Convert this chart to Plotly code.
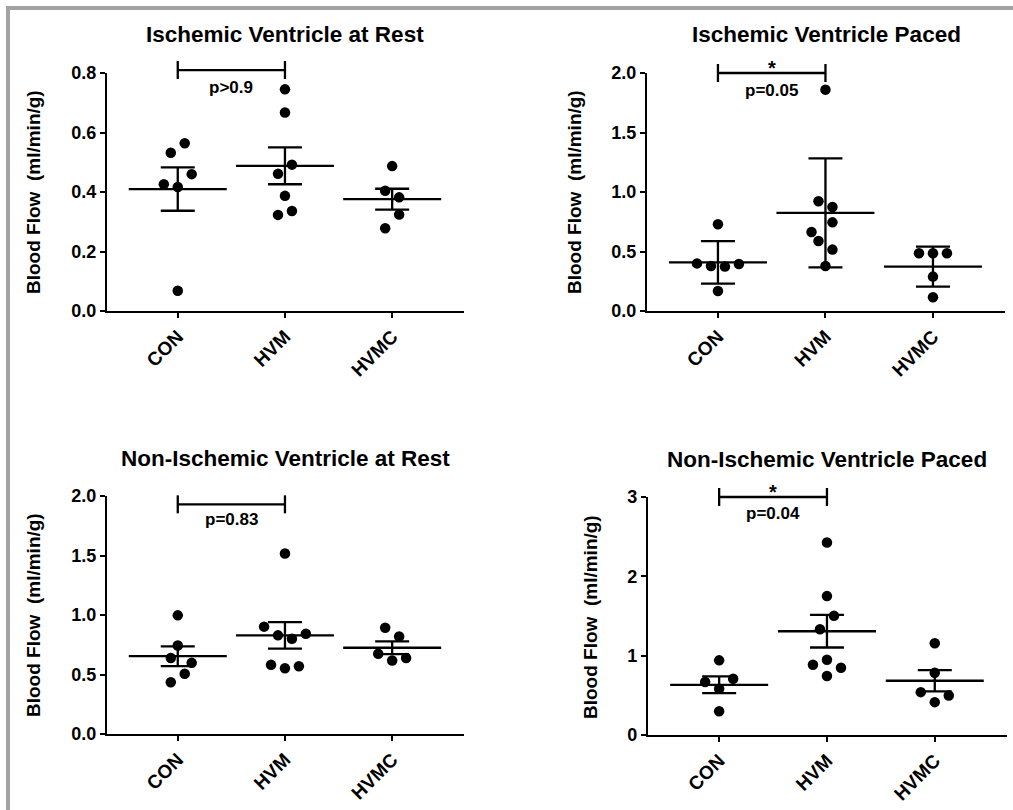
import plotly.graph_objects as go

# ---------------- data ----------------
categories = ["CON", "HVM", "HVMC"]

titles = ["Ischemic Ventricle at Rest", "Ischemic Ventricle Paced",
          "Non-Ischemic Ventricle at Rest", "Non-Ischemic Ventricle Paced"]

# panel 1: Ischemic Ventricle at Rest
p1_con = [0.532, 0.564, 0.460, 0.426, 0.417, 0.068]
p1_hvm = [0.745, 0.667, 0.492, 0.461, 0.387, 0.336, 0.323]
p1_hvmc = [0.487, 0.404, 0.382, 0.324, 0.278]
p1_mean = [0.410, 0.488, 0.376]
p1_err = [0.073, 0.062, 0.035]

# panel 2: Ischemic Ventricle Paced
p2_con = [0.729, 0.400, 0.378, 0.373, 0.395, 0.168]
p2_hvm = [1.860, 0.922, 0.874, 0.745, 0.664, 0.588, 0.516, 0.378]
p2_hvmc = [0.485, 0.485, 0.485, 0.289, 0.115]
p2_mean = [0.409, 0.824, 0.373]
p2_err = [0.179, 0.458, 0.168]

# panel 3: Non-Ischemic Ventricle at Rest
p3_con = [0.997, 0.744, 0.638, 0.598, 0.506, 0.435]
p3_hvm = [1.517, 0.902, 0.829, 0.800, 0.843, 0.581, 0.553, 0.570]
p3_hvmc = [0.893, 0.820, 0.674, 0.618, 0.638]
p3_mean = [0.654, 0.829, 0.725]
p3_err = [0.083, 0.111, 0.054]

# panel 4: Non-Ischemic Ventricle Paced
p4_con = [0.941, 0.709, 0.667, 0.582, 0.300]
p4_hvm = [2.426, 1.751, 1.502, 1.333, 0.949, 0.886, 0.848, 0.743]
p4_hvmc = [1.156, 0.785, 0.540, 0.498, 0.414]
p4_mean = [0.633, 1.308, 0.684]
p4_err = [0.105, 0.205, 0.135]

p_texts = ["p>0.9", "p=0.05", "p=0.83", "p=0.04"]
stars = ["", "*", "", "*"]

y_max = [0.8, 2.0, 2.0, 3.0]
y_dtick = [0.2, 0.5, 0.5, 1]
y_fmt = [".1f", ".1f", ".1f", "d"]

# beeswarm horizontal spread (in marker half-steps) for each point
p1_off = [[-1, 1, 2, -2, 0, 0], [0, 0, 1, -1, 0, 1, -1], [0, -1, 1, 1, -1]]
p2_off = [[0, -3, -1, 1, 3, 0], [0, -1, 1, 1, -2, -1, 1, 0], [-2, 0, 2, 0, 0]]
p3_off = [[0, 0, -1, 2, 1, -1], [0, -3, -1, 1, 3, -2, 0, 2], [-1, 1, -2, 0, 2]]
p4_off = [[0, 2, -2, 0, 0], [0, 0, 1, -1, 0, -2, 2, 0], [0, 0, -2, 2, 0]]

panels = [
    dict(groups=[p1_con, p1_hvm, p1_hvmc], off=p1_off, mean=p1_mean, err=p1_err),
    dict(groups=[p2_con, p2_hvm, p2_hvmc], off=p2_off, mean=p2_mean, err=p2_err),
    dict(groups=[p3_con, p3_hvm, p3_hvmc], off=p3_off, mean=p3_mean, err=p3_err),
    dict(groups=[p4_con, p4_hvm, p4_hvmc], off=p4_off, mean=p4_mean, err=p4_err),
]

# ---------------- layout / style ----------------
W, H = 1013, 810
FONT = "Liberation Sans, Arial, Helvetica, sans-serif"
# plot-area rectangles in pixels: (left, right, top, bottom)
rects = [(107, 464, 73, 311), (647, 1005, 73, 311),
         (107, 464, 496, 734), (648, 1007, 497, 735)]
title_pos = [(285, 35), (826, 35), (285, 458), (827, 459)]
ytitle_pos = [(33, 192), (574, 192), (33, 615), (590, 617)]
bracket_frac = [1.0125, 1.0, 0.965, 1.0]
ptext_shift = [-8, -8, -6, -7]      # top of p-value text below the bracket (px)
star_shift = [0, -6, 0, -6]        # bottom of star text relative to the bracket (px)
x_range = [-0.66, 2.67]
step = 0.065      # horizontal spread step in category units
LW = 2.3

fig = go.Figure()
shapes = []
annotations = []

for i, pan in enumerate(panels):
    n = "" if i == 0 else str(i + 1)
    xref, yref = "x" + n, "y" + n
    # points
    xs, ys = [], []
    for ci, (vals, offs) in enumerate(zip(pan["groups"], pan["off"])):
        for v, o in zip(vals, offs):
            xs.append(ci + o * step)
            ys.append(v)
    fig.add_trace(go.Scatter(
        x=xs, y=ys, mode="markers", xaxis=xref, yaxis=yref,
        marker=dict(size=10.5, color="black"), showlegend=False, hoverinfo="y"))
    # mean line + error bars
    fig.add_trace(go.Scatter(
        x=list(range(len(categories))), y=pan["mean"], mode="markers",
        xaxis=xref, yaxis=yref, showlegend=False,
        marker=dict(symbol="line-ew", size=70, color="black",
                    line=dict(width=LW, color="black")),
        error_y=dict(type="data", array=pan["err"], visible=True,
                     color="black", thickness=LW, width=17)))

    l, r, t, b = rects[i]
    fig.layout["xaxis" + n] = dict(
        domain=[l / W, r / W], anchor=yref, range=x_range, automargin=False,
        tickvals=list(range(len(categories))), ticktext=categories,
        tickangle=-45, showline=True, linewidth=LW, linecolor="black",
        ticks="outside", ticklen=5, tickwidth=LW, tickcolor="black",
        showgrid=False, zeroline=False,
        tickfont=dict(family=FONT, size=19, color="black", weight="bold"))
    fig.layout["yaxis" + n] = dict(
        domain=[1 - b / H, 1 - t / H], anchor=xref, range=[0, y_max[i]],
        automargin=False,
        dtick=y_dtick[i], tick0=0, tickformat=y_fmt[i],
        showline=True, linewidth=LW, linecolor="black",
        ticks="outside", ticklen=5, tickwidth=LW, tickcolor="black",
        showgrid=False, zeroline=False,
        tickfont=dict(family=FONT, size=18, color="black", weight="bold"))

    # significance bracket (between CON and HVM)
    ydom = yref + " domain"
    bf = bracket_frac[i]
    shapes.append(dict(type="line", xref=xref, yref=ydom, x0=0, x1=1,
                       y0=bf, y1=bf, line=dict(color="black", width=LW)))
    for xe in (0, 1):
        shapes.append(dict(type="line", xref=xref, yref=ydom,
                           ysizemode="pixel", yanchor=bf, y0=-9, y1=9,
                           x0=xe, x1=xe, line=dict(color="black", width=LW)))
    annotations.append(dict(xref=xref, yref=ydom, x=0.5, y=bf, yshift=ptext_shift[i],
                            xanchor="center", yanchor="top", borderpad=0, borderwidth=0,
                            text=p_texts[i], showarrow=False,
                            font=dict(family=FONT, size=17, color="black", weight="bold")))
    if stars[i]:
        annotations.append(dict(xref=xref, yref=ydom, x=0.5, y=bf, yshift=star_shift[i],
                                xanchor="center", yanchor="bottom", borderpad=0, borderwidth=0,
                                text=stars[i], showarrow=False,
                                font=dict(family=FONT, size=20, color="black", weight="bold")))

    tx, ty = title_pos[i]
    annotations.append(dict(xref="paper", yref="paper", x=tx / W, y=1 - ty / H,
                            text=titles[i], showarrow=False, xanchor="center", yanchor="middle",
                            font=dict(family=FONT, size=22.5, color="black", weight="bold")))
    yx, yy = ytitle_pos[i]
    annotations.append(dict(xref="paper", yref="paper", x=yx / W, y=1 - yy / H,
                            text="Blood Flow  (ml/min/g)", textangle=-90, showarrow=False,
                            xanchor="center", yanchor="middle",
                            font=dict(family=FONT, size=19, color="black", weight="bold")))

# outer gray frame (left and top)
shapes.append(dict(type="line", xref="paper", yref="paper", x0=8 / W, x1=8 / W,
                   y0=0, y1=1 - 6 / H, line=dict(color="#a3a3a3", width=4)))
shapes.append(dict(type="line", xref="paper", yref="paper", x0=6 / W, x1=1,
                   y0=1 - 8 / H, y1=1 - 8 / H, line=dict(color="#a3a3a3", width=4)))

fig.update_layout(width=W, height=H, margin=dict(l=0, r=0, t=0, b=0, autoexpand=False),
                  template="none",
                  paper_bgcolor="white", plot_bgcolor="white",
                  shapes=shapes, annotations=annotations,
                  font=dict(family=FONT, color="black"), showlegend=False)

fig.write_html("out.html")
